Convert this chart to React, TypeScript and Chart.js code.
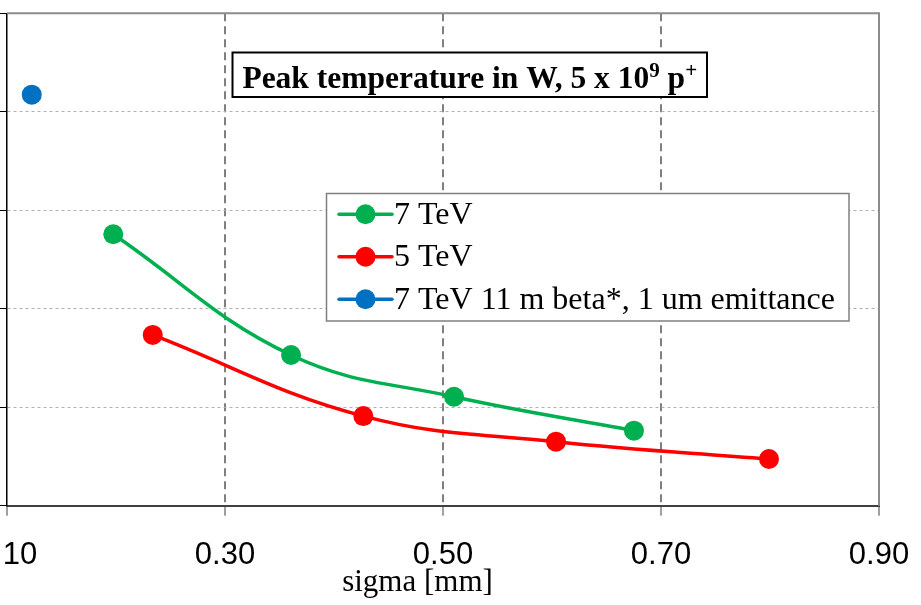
import React, { useEffect, useRef } from "react";
import { Chart, registerables } from "chart.js";

Chart.register(...registerables);

// ---- data ----
const sigma7TeV = [0.1975, 0.3606, 0.5101, 0.6752];
const temp7TeV = [1378, 765, 553, 381];
const sigma5TeV = [0.2337, 0.4269, 0.6037, 0.7991];
const temp5TeV = [867, 455, 325, 237];
const sigmaBeta = [0.1227];
const tempBeta = [2087];
const seriesLabels = ["7 TeV", "5 TeV", "7 TeV 11 m beta*, 1 um emittance"];
const seriesColors = ["#00B050", "#FF0000", "#0070C0"];
const xTickValues = [0.1, 0.3, 0.5, 0.7, 0.9];
const yMin = 0;
const yMax = 2500;
const yStep = 500;
const titleParts = ["Peak temperature in W, 5 x 10", "9", " p", "+"];
const xAxisTitle = "sigma [mm]";

const SERIF = "'Liberation Serif', 'Times New Roman', serif";
const SANS = "'Liberation Sans', Arial, sans-serif";

const toPoints = (xs: number[], ys: number[]) => xs.map((x, i) => ({ x, y: ys[i] }));

const framePlugin = {
  id: "frame",
  beforeDatasetsDraw(chart: any) {
    const { ctx, chartArea: a } = chart;
    ctx.save();
    ctx.strokeStyle = "#8c8c8c";
    ctx.lineWidth = 2;
    ctx.beginPath();
    ctx.moveTo(a.left, a.top);
    ctx.lineTo(a.right, a.top);
    ctx.lineTo(a.right, a.bottom);
    ctx.stroke();
    ctx.restore();
  },
};

const overlayPlugin = {
  id: "overlay",
  afterDraw(chart: any) {
    const ctx = chart.ctx as CanvasRenderingContext2D;
    ctx.save();

    // Title box
    const bx = 232.5, by = 52.5, bw = 474.5, bh = 44.5;
    ctx.fillStyle = "#fff";
    ctx.fillRect(bx, by, bw, bh);
    ctx.strokeStyle = "#000";
    ctx.lineWidth = 2;
    ctx.strokeRect(bx, by, bw, bh);
    const big = `bold 31.5px ${SERIF}`;
    const small = `bold 21px ${SERIF}`;
    const fonts = [big, small, big, small];
    const rises = [0, 11, 0, 11];
    let total = 0;
    const widths = titleParts.map((p, i) => {
      ctx.font = fonts[i];
      const w = ctx.measureText(p).width;
      total += w;
      return w;
    });
    let tx = bx + bw / 2 - total / 2;
    const base = 88;
    ctx.fillStyle = "#000";
    ctx.textAlign = "left";
    ctx.textBaseline = "alphabetic";
    titleParts.forEach((p, i) => {
      ctx.font = fonts[i];
      ctx.fillText(p, tx, base - rises[i]);
      tx += widths[i];
    });

    // Legend box
    const lx = 326.5, ly = 193.5, lw = 522.5, lh = 127.5;
    ctx.fillStyle = "#fff";
    ctx.fillRect(lx, ly, lw, lh);
    ctx.strokeStyle = "#7f7f7f";
    ctx.lineWidth = 1.5;
    ctx.strokeRect(lx, ly, lw, lh);
    chart.data.datasets.forEach((ds: any, i: number) => {
      const cy = 214.3 + i * 42.5;
      ctx.strokeStyle = ds.borderColor;
      ctx.lineWidth = 3.5;
      ctx.lineCap = "round";
      ctx.beginPath();
      ctx.moveTo(339, cy);
      ctx.lineTo(392, cy);
      ctx.stroke();
      ctx.fillStyle = ds.backgroundColor;
      ctx.beginPath();
      ctx.arc(365.5, cy, 10, 0, Math.PI * 2);
      ctx.fill();
      ctx.fillStyle = "#000";
      ctx.font = `32px ${SERIF}`;
      ctx.textBaseline = "middle";
      ctx.textAlign = "left";
      ctx.fillText(ds.label, 394, cy + 1);
    });

    // X axis title
    ctx.font = `31px ${SERIF}`;
    ctx.fillStyle = "#000";
    ctx.textAlign = "center";
    ctx.textBaseline = "alphabetic";
    ctx.fillText(xAxisTitle, 417.5, 591);

    ctx.restore();
  },
};

export default function App() {
  const canvasRef = useRef<HTMLCanvasElement | null>(null);

  useEffect(() => {
    if (!canvasRef.current) return;
    const near = (a: number, b: number) => Math.abs(a - b) < 1e-6;
    const chart = new Chart(canvasRef.current, {
      type: "line",
      data: {
        datasets: [
          {
            label: seriesLabels[0],
            data: toPoints(sigma7TeV, temp7TeV),
            borderColor: seriesColors[0],
            backgroundColor: seriesColors[0],
          },
          {
            label: seriesLabels[1],
            data: toPoints(sigma5TeV, temp5TeV),
            borderColor: seriesColors[1],
            backgroundColor: seriesColors[1],
          },
          {
            label: seriesLabels[2],
            data: toPoints(sigmaBeta, tempBeta),
            borderColor: seriesColors[2],
            backgroundColor: seriesColors[2],
          },
        ].map((d) => ({
          ...d,
          borderWidth: 3.5,
          pointRadius: 10,
          pointHoverRadius: 10,
          pointBorderWidth: 0,
          pointBackgroundColor: d.backgroundColor,
          tension: 0.4,
          fill: false,
        })),
      },
      options: {
        responsive: false,
        animation: false,
        devicePixelRatio: 1,
        events: [],
        layout: { autoPadding: false, padding: { top: 13.3, right: 42, bottom: 0, left: 0 } },
        plugins: {
          legend: { display: false },
          title: { display: false },
          tooltip: { enabled: false },
        },
        scales: {
          x: {
            type: "linear",
            min: xTickValues[0],
            max: xTickValues[xTickValues.length - 1],
            afterBuildTicks: (s: any) => {
              s.ticks = xTickValues.map((v) => ({ value: v }));
            },
            afterFit: (s: any) => {
              s.height = 99.3;
              s.paddingLeft = 0;
              s.paddingRight = 0;
            },
            ticks: {
              callback: (v: any) => Number(v).toFixed(2),
              font: { family: SANS, size: 31 },
              color: "#000",
              padding: 21,
              maxRotation: 0,
              autoSkip: false,
            },
            grid: {
              color: (c: any) =>
                c.tick && (near(c.tick.value, 0.1) || near(c.tick.value, 0.9))
                  ? "rgba(0,0,0,0)"
                  : "#7f7f7f",
              lineWidth: 2,
              tickColor: "#404040",
              tickLength: 10,
              tickWidth: 1,
              tickBorderDash: [],
            },
            border: { color: "#404040", width: 2, dash: [8, 5] },
          },
          y: {
            min: yMin,
            max: yMax,
            ticks: { stepSize: yStep, display: false },
            afterFit: (s: any) => {
              s.width = 7;
            },
            grid: {
              color: (c: any) =>
                c.tick && (c.tick.value === yMin || c.tick.value === yMax)
                  ? "rgba(0,0,0,0)"
                  : "#b0b0b0",
              lineWidth: 1,
              tickColor: "#000",
              tickLength: 7,
              tickWidth: 1,
              tickBorderDash: [],
            },
            border: { color: "#000", width: 1.5, dash: [3, 3] },
          },
        },
      } as any,
      plugins: [framePlugin, overlayPlugin],
    });
    return () => chart.destroy();
  }, []);

  return (
    <div
      style={{
        position: "fixed",
        left: 0,
        top: 0,
        width: 921,
        height: 605,
        overflow: "hidden",
        background: "#fff",
      }}
    >
      <canvas ref={canvasRef} width={921} height={605} style={{ display: "block" }} />
    </div>
  );
}
